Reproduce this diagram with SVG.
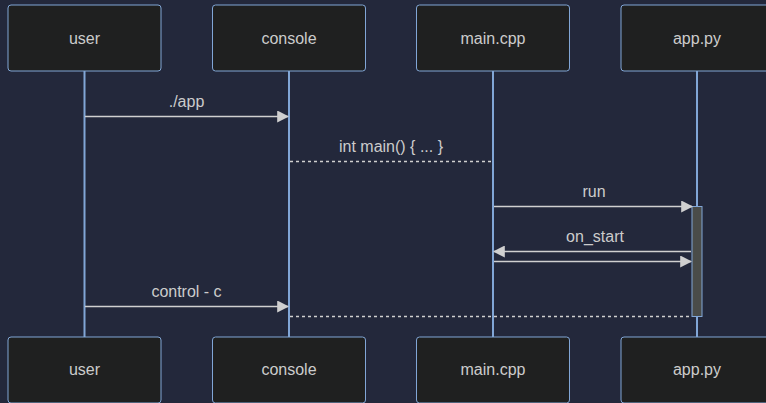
<svg xmlns="http://www.w3.org/2000/svg" width="766" height="403" viewBox="0 0 766 403">
  <style>
    .actor rect { fill: #1f2020; stroke: #81a6d6; stroke-width: 1; }
    .actor text, .msg-label { font-family: "Liberation Sans", Arial, sans-serif; font-size: 16px; fill: #cccccc; text-anchor: middle; }
    .lifeline { stroke: #81a6d6; stroke-width: 2; }
    .msg { stroke: #d0d0d0; stroke-width: 1.5; fill: none; }
    .dotted { stroke-dasharray: 3 3; }
    .activation { fill: #4a4c49; stroke: #81a6d6; stroke-width: 1; }
  </style>
  <defs>
    <marker id="arrowhead" viewBox="0 0 10 10" refX="9" refY="5" markerUnits="userSpaceOnUse" markerWidth="12" markerHeight="12" orient="auto">
      <path d="M 0 0 L 10 5 L 0 10 z" fill="#d0d0d0"/>
    </marker>
  </defs>
  <rect width="766" height="403" fill="#23283b"/>

  <!-- lifelines -->
  <g id="lifelines">
    <line class="lifeline" x1="84.5" y1="71" x2="84.5" y2="337"/>
    <line class="lifeline" x1="289" y1="71" x2="289" y2="337"/>
    <line class="lifeline" x1="493" y1="71" x2="493" y2="337"/>
    <line class="lifeline" x1="697" y1="71" x2="697" y2="337"/>
  </g>

  <!-- participants, top -->
  <g id="user-top" class="actor"><rect x="8" y="5" width="153" height="66" rx="3"/><text x="84.5" y="44">user</text></g>
  <g id="console-top" class="actor"><rect x="212.5" y="5" width="153" height="66" rx="3"/><text x="289" y="44">console</text></g>
  <g id="main-top" class="actor"><rect x="416.5" y="5" width="153" height="66" rx="3"/><text x="493" y="44">main.cpp</text></g>
  <g id="app-top" class="actor"><rect x="621" y="5" width="153" height="66" rx="3"/><text x="697" y="44">app.py</text></g>

  <!-- activation of app.py -->
  <g id="app-activation">
    <rect class="activation" x="692" y="206.5" width="10" height="110"/>
  </g>

  <!-- messages -->
  <g id="messages">
    <text class="msg-label" x="186.5" y="107">./app</text>
    <line class="msg" x1="85" y1="116.5" x2="288" y2="116.5" marker-end="url(#arrowhead)"/>

    <text class="msg-label" x="391" y="152">int main() { ... }</text>
    <line class="msg dotted" x1="290" y1="161.5" x2="491" y2="161.5"/>

    <text class="msg-label" x="594" y="197">run</text>
    <line class="msg" x1="494" y1="206.5" x2="692" y2="206.5" marker-end="url(#arrowhead)"/>

    <text class="msg-label" x="595" y="242">on_start</text>
    <line class="msg" x1="691" y1="251.5" x2="494" y2="251.5" marker-end="url(#arrowhead)"/>
    <line class="msg" x1="494" y1="261.5" x2="691" y2="261.5" marker-end="url(#arrowhead)"/>

    <text class="msg-label" x="186.5" y="297">control - c</text>
    <line class="msg" x1="85" y1="306.5" x2="288" y2="306.5" marker-end="url(#arrowhead)"/>

    <line class="msg dotted" x1="290" y1="316.5" x2="692" y2="316.5"/>
  </g>

  <!-- participants, bottom -->
  <g id="user-bottom" class="actor"><rect x="8" y="337" width="153" height="66" rx="3"/><text x="84.5" y="375">user</text></g>
  <g id="console-bottom" class="actor"><rect x="212.5" y="337" width="153" height="66" rx="3"/><text x="289" y="375">console</text></g>
  <g id="main-bottom" class="actor"><rect x="416.5" y="337" width="153" height="66" rx="3"/><text x="493" y="375">main.cpp</text></g>
  <g id="app-bottom" class="actor"><rect x="621" y="337" width="153" height="66" rx="3"/><text x="697" y="375">app.py</text></g>
</svg>
